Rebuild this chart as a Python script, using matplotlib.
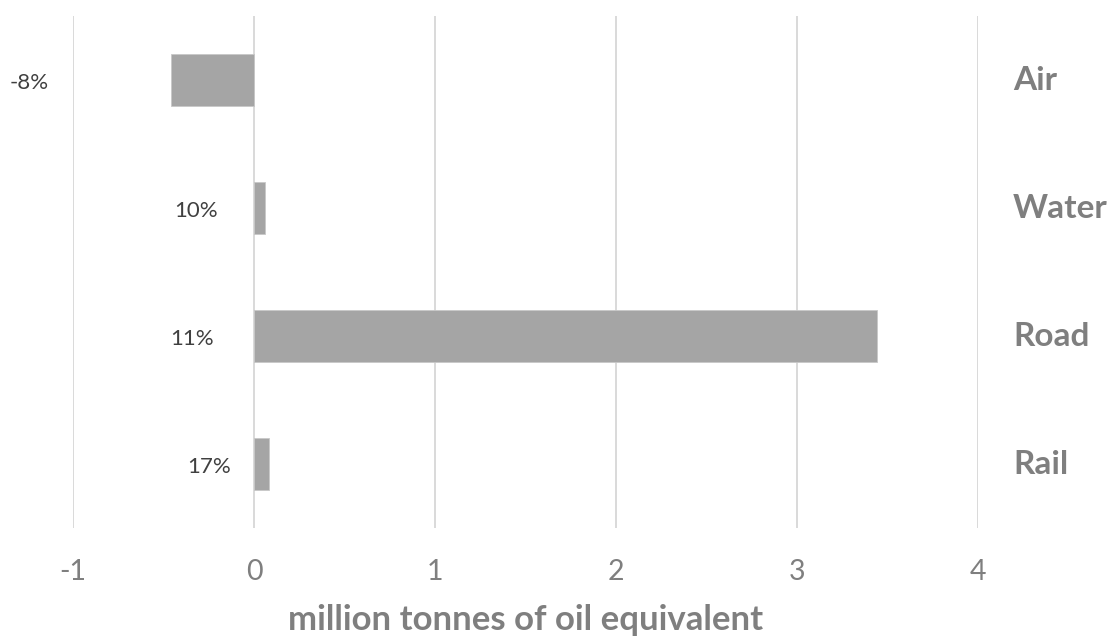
import matplotlib
matplotlib.use("Agg")
import matplotlib.pyplot as plt

categories = ["Air", "Water", "Road", "Rail"]
values = [-0.46, 0.062, 3.44, 0.083]
pct_labels = ["-8%", "10%", "11%", "17%"]
xticks = [-1, 0, 1, 2, 3, 4]

# label x-positions (data units) for the percentage texts
pct_label_x = [-1.24, -0.32, -0.34, -0.25]

plt.rcParams['font.family'] = ['Lato', 'DejaVu Sans']

fig = plt.figure(figsize=(11.11, 6.37), dpi=100)
ax = fig.add_axes([73/1111, 1 - 528/637, (978-73)/1111, (528-16)/637])

ypos = list(range(len(categories)))
ax.barh(ypos, values, height=0.4, color="#a5a5a5", edgecolor="#c8c8c8",
        linewidth=0.6, zorder=3)

ax.set_xlim(-1, 4)
ax.set_ylim(3.5, -0.5)
ax.set_xticks(xticks)
ax.set_xticklabels([str(t) for t in xticks])
ax.set_yticks([])
ax.grid(axis="x", color="#d9d9d9", linewidth=1.4, zorder=0)
for s in ax.spines.values():
    s.set_visible(False)
ax.tick_params(axis="x", length=0, pad=22, labelsize=20.5, labelcolor="#7f7f7f")

ax.set_xlabel("million tonnes of oil equivalent", fontsize=25, fontweight="bold",
              color="#7f7f7f", labelpad=14)

for y, cat in zip(ypos, categories):
    ax.text(1.0387, y, cat, transform=ax.get_yaxis_transform(), ha="left",
            va="center", fontsize=24, fontweight="bold", color="#7f7f7f",
            clip_on=False)

for y, lx, lab in zip(ypos, pct_label_x, pct_labels):
    ax.text(lx, y + 0.02, lab, ha="center", va="center", fontsize=16,
            color="#404040", clip_on=False)

fig.savefig("out.png", dpi=100)
